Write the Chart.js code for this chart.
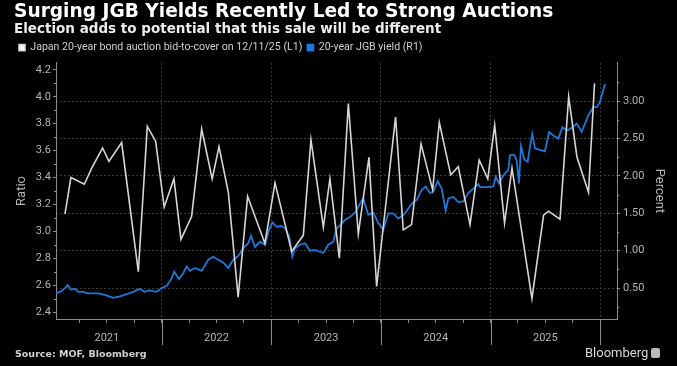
<!DOCTYPE html>
<html>
<head>
<meta charset="utf-8">
<script src="https://cdn.jsdelivr.net/npm/chart.js@4.4.1/dist/chart.umd.min.js"></script>
<style>
  html, body { margin: 0; padding: 0; background: #000; }
  #wrap { position: relative; width: 677px; height: 366px; background: #000; }
  #source { position: absolute; left: 15px; top: 348px; font: bold 9.5px "DejaVu Sans", sans-serif; color: #d0d0d0; }
  #brand { position: absolute; left: 585px; top: 345px; font: 13px Roboto, sans-serif; color: #d8d8d8; }
  #brand span { display: inline-block; width: 9px; height: 10px; margin-left: 3px; background: #bbb; border-radius: 2px; vertical-align: -1px; }
</style>
</head>
<body>
<div id="wrap">
  <canvas id="chart" width="677" height="366"></canvas>
  <div id="source">Source: MOF, Bloomberg</div>
  <div id="brand">Bloomberg<span></span></div>
</div>
<script>
// auction bid-to-cover (left axis), x = decimal year
var auctionDates = [2021.118, 2021.172, 2021.294, 2021.362, 2021.461, 2021.519, 2021.635, 2021.787, 2021.869, 2021.945,
  2022.023, 2022.112, 2022.176, 2022.273, 2022.365, 2022.461, 2022.523, 2022.608, 2022.698, 2022.784, 2022.942,
  2023.034, 2023.186, 2023.292, 2023.362, 2023.475, 2023.535, 2023.621, 2023.703, 2023.794, 2023.891, 2023.961,
  2024.134, 2024.204, 2024.280, 2024.366, 2024.472, 2024.533, 2024.637, 2024.706, 2024.813, 2024.897, 2024.975,
  2025.038, 2025.128, 2025.196, 2025.378, 2025.484, 2025.529, 2025.634, 2025.713, 2025.789, 2025.894, 2025.949];
var auctionRatio = [3.13, 3.40, 3.35, 3.47, 3.62, 3.52, 3.66, 2.70, 3.78, 3.67,
  3.18, 3.39, 2.94, 3.11, 3.76, 3.39, 3.63, 3.29, 2.51, 3.26, 2.91,
  3.36, 2.85, 2.97, 3.68, 3.03, 3.39, 2.80, 3.95, 2.98, 3.55, 2.59,
  3.85, 3.01, 3.05, 3.65, 3.31, 3.81, 3.42, 3.48, 3.05, 3.53, 3.39,
  3.79, 3.06, 3.47, 2.50, 3.12, 3.15, 3.09, 4.00, 3.55, 3.29, 4.10];

// 20-year JGB yield (right axis)
var yieldDates = [2021.026, 2021.072, 2021.118, 2021.142, 2021.172, 2021.209, 2021.239, 2021.285, 2021.330, 2021.422,
  2021.483, 2021.558, 2021.620, 2021.681, 2021.741, 2021.802, 2021.841, 2021.893, 2021.954, 2022.000,
  2022.046, 2022.091, 2022.115, 2022.158, 2022.197, 2022.228, 2022.258, 2022.304, 2022.365, 2022.425,
  2022.471, 2022.516, 2022.562, 2022.608, 2022.653, 2022.699, 2022.754, 2022.790, 2022.815, 2022.851,
  2022.897, 2022.943, 2022.973, 2023.009, 2023.049, 2023.089, 2023.125, 2023.164, 2023.192, 2023.216,
  2023.262, 2023.308, 2023.353, 2023.399, 2023.474, 2023.520, 2023.566, 2023.597, 2023.627, 2023.672,
  2023.718, 2023.770, 2023.809, 2023.839, 2023.885, 2023.931, 2023.976, 2024.022, 2024.068, 2024.113,
  2024.159, 2024.220, 2024.281, 2024.327, 2024.372, 2024.409, 2024.448, 2024.478, 2024.518, 2024.555,
  2024.591, 2024.615, 2024.661, 2024.706, 2024.752, 2024.797, 2024.843, 2024.889, 2024.904, 2024.965,
  2025.026, 2025.047, 2025.078, 2025.117, 2025.162, 2025.178, 2025.217, 2025.239, 2025.260, 2025.278,
  2025.308, 2025.339, 2025.360, 2025.381, 2025.406, 2025.452, 2025.497, 2025.534, 2025.573, 2025.619,
  2025.655, 2025.704, 2025.746, 2025.787, 2025.832, 2025.892, 2025.938, 2025.969, 2025.999, 2026.015,
  2026.045];
var yieldPct = [0.43, 0.45, 0.50, 0.54, 0.48, 0.49, 0.45, 0.45, 0.43, 0.43,
  0.41, 0.37, 0.39, 0.42, 0.45, 0.49, 0.45, 0.47, 0.45, 0.50,
  0.53, 0.63, 0.72, 0.62, 0.70, 0.79, 0.73, 0.77, 0.73, 0.88,
  0.92, 0.88, 0.84, 0.77, 0.88, 0.93, 1.05, 1.10, 1.20, 1.05,
  1.12, 1.08, 1.25, 1.38, 1.32, 1.33, 1.30, 1.19, 0.92, 1.03,
  1.08, 1.10, 1.00, 1.01, 0.97, 1.08, 1.12, 1.30, 1.34, 1.41,
  1.45, 1.52, 1.63, 1.70, 1.48, 1.51, 1.37, 1.28, 1.50, 1.50,
  1.43, 1.50, 1.63, 1.68, 1.81, 1.86, 1.77, 1.79, 1.93, 1.83,
  1.54, 1.70, 1.72, 1.65, 1.66, 1.77, 1.83, 1.89, 1.85, 1.85,
  1.86, 1.99, 1.90, 2.01, 2.08, 2.28, 2.28, 2.21, 1.90, 2.40,
  2.22, 2.19, 2.39, 2.56, 2.37, 2.35, 2.33, 2.59, 2.54, 2.50,
  2.65, 2.61, 2.65, 2.70, 2.59, 2.81, 2.92, 2.92, 2.99, 3.08,
  3.23];

var yearLabels = [2021, 2022, 2023, 2024, 2025];
var ratioTicks = [2.4, 2.6, 2.8, 3.0, 3.2, 3.4, 3.6, 3.8, 4.0, 4.2];
var percentTicks = [0.5, 1.0, 1.5, 2.0, 2.5, 3.0];

var AXIS = '#8c8c8c';
var LABEL = '#b4b4b4';
var GRID = '#3a3a3a';

function pairs(xs, ys) {
  return xs.map(function (x, i) { return { x: x, y: ys[i] }; });
}

// quarterly ticks; year label sits mid-year
var quarterTicks = [];
yearLabels.forEach(function (y) {
  [0.25, 0.5, 0.75, 1].forEach(function (q) { quarterTicks.push(y + q); });
});

// small minor ticks on both y axes + year separators below the x axis
var extrasPlugin = {
  id: 'extras',
  afterDraw: function (chart) {
    var ctx = chart.ctx, area = chart.chartArea;
    var sx = chart.scales.x, sl = chart.scales.yL, sr = chart.scales.yR;
    ctx.save();
    ctx.strokeStyle = AXIS;
    ctx.lineWidth = 1;
    ctx.beginPath();
    for (var i = 0; i < ratioTicks.length - 1; i++) {
      var py = Math.round(sl.getPixelForValue((ratioTicks[i] + ratioTicks[i + 1]) / 2)) + 0.5;
      ctx.moveTo(area.left - 2, py); ctx.lineTo(area.left, py);
    }
    for (var j = 0; j < percentTicks.length; j++) {
      var py2 = Math.round(sr.getPixelForValue(percentTicks[j] - 0.25)) + 0.5;
      ctx.moveTo(area.right, py2); ctx.lineTo(area.right + 2, py2);
    }
    var top3 = Math.round(sr.getPixelForValue(3.25)) + 0.5;
    ctx.moveTo(area.right, top3); ctx.lineTo(area.right + 2, top3);
    yearLabels.forEach(function (y) {
      var px = Math.round(sx.getPixelForValue(y + 1)) + 0.5;
      ctx.moveTo(px, area.bottom); ctx.lineTo(px, area.bottom + 26);
    });
    ctx.stroke();
    ctx.restore();
  }
};

new Chart(document.getElementById('chart'), {
  type: 'line',
  data: {
    datasets: [{
      label: 'Japan 20-year bond auction bid-to-cover on 12/11/25 (L1)',
      data: pairs(auctionDates, auctionRatio),
      yAxisID: 'yL',
      borderColor: '#d6d6d6',
      backgroundColor: '#ffffff',
      borderWidth: 1.6,
      pointRadius: 0,
      tension: 0
    }, {
      label: '20-year JGB yield (R1)',
      data: pairs(yieldDates, yieldPct),
      yAxisID: 'yR',
      borderColor: '#1f78d8',
      backgroundColor: '#1f78d8',
      borderWidth: 1.8,
      pointRadius: 0,
      tension: 0
    }]
  },
  options: {
    responsive: false,
    animation: false,
    events: [],
    layout: { padding: { left: 14, right: 10, top: 0, bottom: 21 } },
    plugins: {
      title: {
        display: true, align: 'start', color: '#ffffff',
        text: 'Surging JGB Yields Recently Led to Strong Auctions',
        font: { family: 'DejaVu Sans', size: 18.6, weight: 'bold', lineHeight: 1.1 },
        padding: { top: 2, bottom: 0 }
      },
      subtitle: {
        display: true, align: 'start', color: '#ececec',
        text: 'Election adds to potential that this sale will be different',
        font: { family: 'DejaVu Sans', size: 13.5, weight: 'bold', lineHeight: 1.1 },
        padding: { top: 0, bottom: 0 }
      },
      legend: {
        display: true, align: 'start',
        labels: {
          color: '#cfcfcf', boxWidth: 6, boxHeight: 6, padding: 5,
          font: { family: 'Roboto', size: 10.6 }
        }
      },
      tooltip: { enabled: false }
    },
    scales: {
      x: {
        type: 'linear',
        min: 2021.036, max: 2026.154,
        afterBuildTicks: function (s) { s.ticks = quarterTicks.map(function (v) { return { value: v }; }); },
        afterFit: function (s) { s.height = 26; },
        ticks: {
          autoSkip: false, maxRotation: 0, color: LABEL, padding: 9,
          font: { family: 'Roboto', size: 11 },
          callback: function (v) { return (v % 1 === 0.5) ? String(Math.floor(v)) : ''; }
        },
        grid: {
          color: function (c) { return (c.tick && c.tick.value % 1 === 0) ? GRID : 'rgba(0,0,0,0)'; },
          tickColor: AXIS, tickLength: 4
        },
        border: { color: AXIS, dash: [2, 2] }
      },
      yL: {
        position: 'left',
        min: 2.348, max: 4.252,
        afterBuildTicks: function (s) { s.ticks = ratioTicks.map(function (v) { return { value: v }; }); },
        afterFit: function (s) { s.width = 42; },
        ticks: {
          color: LABEL, padding: 2, font: { family: 'Roboto', size: 11 },
          callback: function (v) { return v.toFixed(1); }
        },
        grid: { drawOnChartArea: false, tickColor: AXIS, tickLength: 3 },
        border: { color: AXIS },
        title: { display: true, text: 'Ratio', color: LABEL, font: { family: 'Roboto', size: 13 }, padding: 0 }
      },
      yR: {
        position: 'right',
        min: 0.087, max: 3.512,
        afterBuildTicks: function (s) { s.ticks = percentTicks.map(function (v) { return { value: v }; }); },
        afterFit: function (s) { s.width = 50; },
        ticks: {
          color: LABEL, padding: 3, font: { family: 'Roboto', size: 11 },
          callback: function (v) { return v.toFixed(2); }
        },
        grid: { color: GRID, tickColor: AXIS, tickLength: 3 },
        border: { color: AXIS, dash: [2, 2] },
        title: { display: true, text: 'Percent', color: LABEL, font: { family: 'Roboto', size: 13 }, padding: 0 }
      }
    }
  },
  plugins: [extrasPlugin]
});
</script>
</body>
</html>
